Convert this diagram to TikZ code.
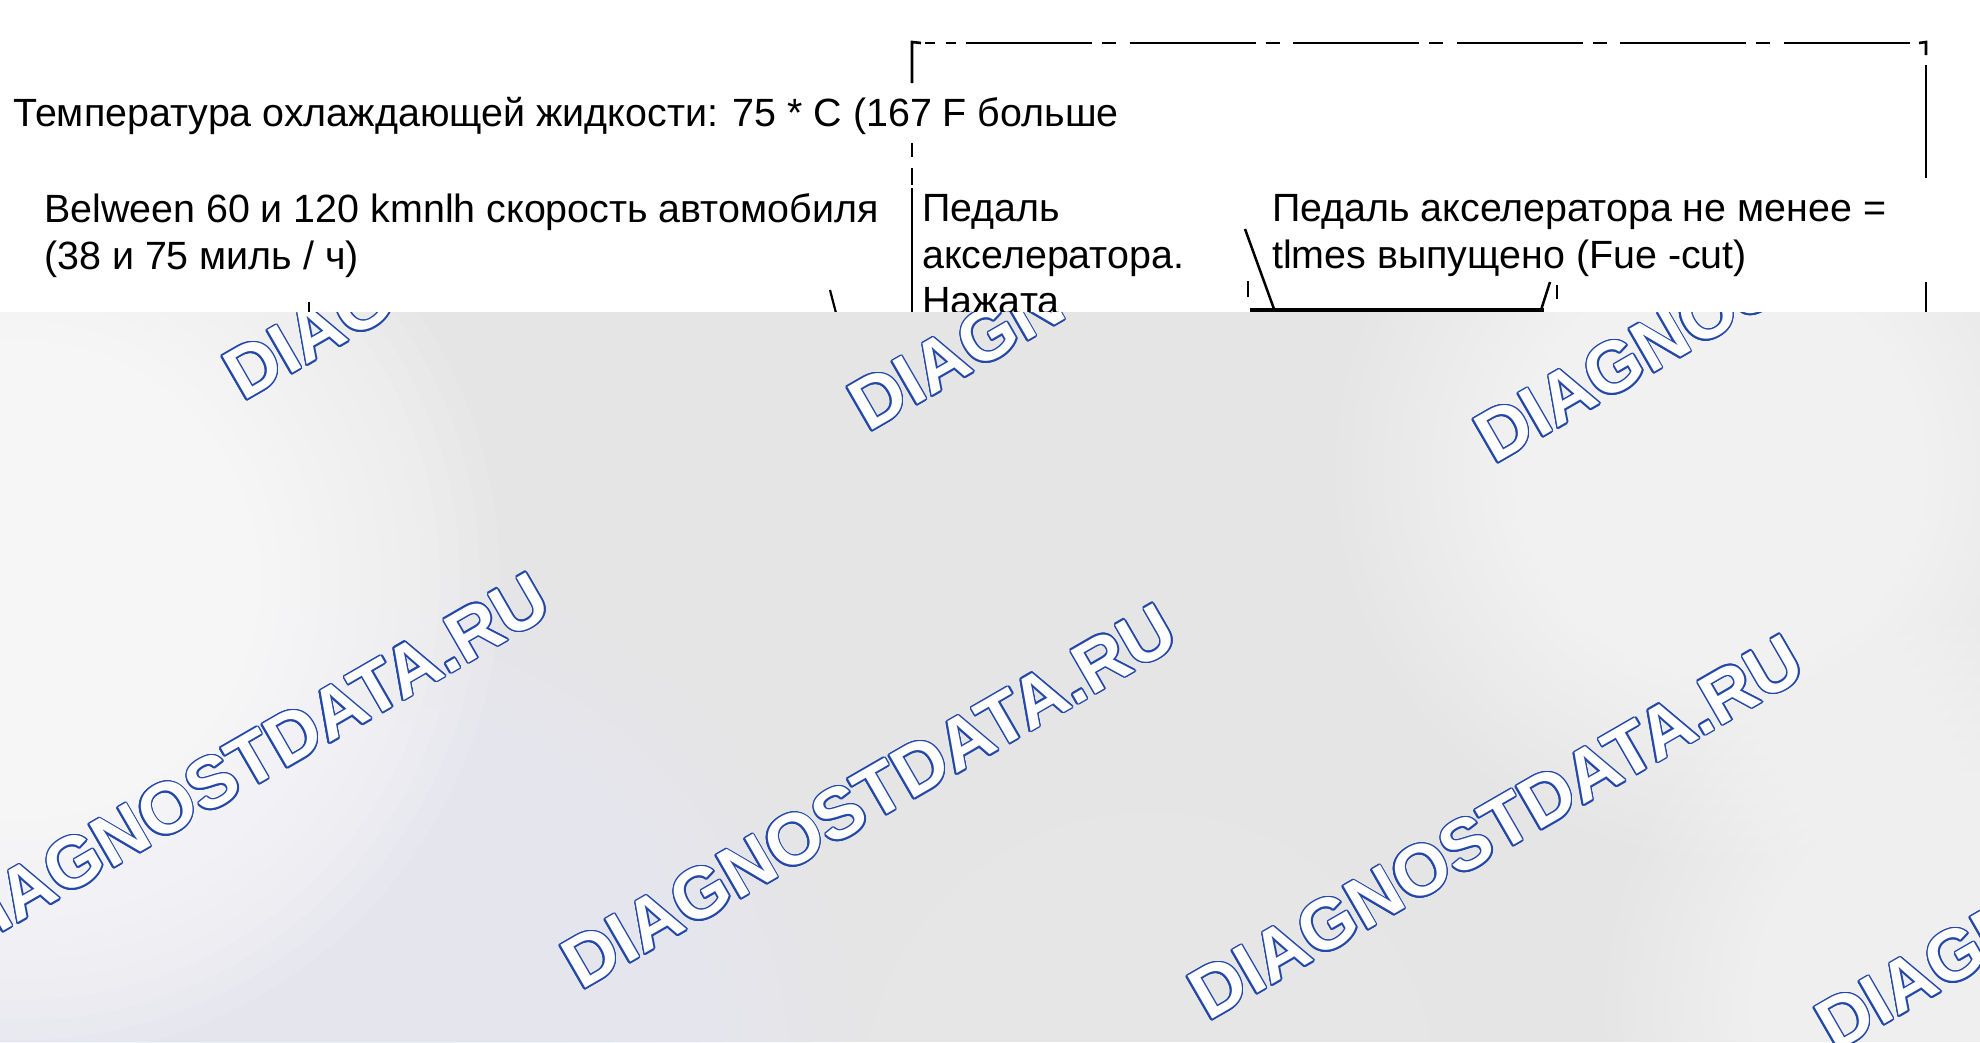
\documentclass[tikz,border=0pt]{standalone}
\usepackage{fontspec}
\setmainfont{Liberation Sans}
\newfontfamily\wmfont{Liberation Sans}
\definecolor{bgg}{HTML}{E5E5E6}
\definecolor{wmblue}{HTML}{2448A8}
\definecolor{bluetint}{HTML}{ECEFFA}
\newcommand\wmark[2]{%
  \foreach \a in {0,22.5,...,337.5}
    \node[wm, text=wmblue, xshift={1.5pt*cos(\a)}, yshift={1.5pt*sin(\a)}] at (#2) {DIAGNOSTDATA.RU};
  \node[wm, text=white] (#1) at (#2) {DIAGNOSTDATA.RU};}
\newcommand\glow[5]{% color, x, y, step radius, opacity
  \foreach \i in {1,...,24}
    \fill[#1, fill opacity=#5] (#2,#3) circle ({\i*#4});}
\begin{document}
\begin{tikzpicture}[x=1pt,y=-1pt,
  txt/.style={anchor=base west, inner sep=0pt, font=\fontsize{39.4}{47}\selectfont},
  frm/.style={line width=2.6pt, black},
  wm/.style={anchor=base west, inner sep=0pt, rotate=30, font=\wmfont\bfseries\fontsize{72}{72}\selectfont}]
\useasboundingbox (0,0) rectangle (1980,1042);
\fill[white] (0,0) rectangle (1980,1042);
% texts
\node[txt] (t1) at (13,126) {Температура охлаждающей жидкости: 75 * C (167 F больше};
\node[txt] (t2a) at (44,222) {Belween 60 и 120 kmnlh скорость автомобиля};
\node[txt] (t2b) at (44,269) {(38 и 75 миль / ч)};
\node[txt] (t3a) at (922,221) {Педаль};
\node[txt] (t3b) at (922,268) {акселератора.};
\node[txt] (t3c) at (922,314) {Нажата};
\node[txt] (t4a) at (1272,221) {Педаль акселератора не менее =};
\node[txt] (t4b) at (1272,268) {tlmes выпущено (Fue -cut)};
% frame coordinates
\coordinate (L0) at (912,42);
\coordinate (L1) at (912,83);
\coordinate (L2) at (912,143);
\coordinate (L3) at (912,157);
\coordinate (L4) at (912,168);
\coordinate (L5) at (912,185);
\coordinate (L6) at (912,188);
\coordinate (L7) at (912,312);
\coordinate (T0) at (921,43);
\coordinate (Ta) at (925,43);
\coordinate (Tb) at (935,43);
\coordinate (Tc) at (946,43);
\coordinate (Td) at (956,43);
\coordinate (Te) at (966,43);
\coordinate (Tf) at (1913,43);
\coordinate (Tg) at (1919,43);
\coordinate (R0) at (1926,42);
\coordinate (R1) at (1926,55);
\coordinate (R2) at (1926,65);
\coordinate (R3) at (1926,178);
\coordinate (R4) at (1926,282);
\coordinate (R5) at (1926,312);
\draw[frm] (L1) -- (L0) -- (T0);
\draw[frm] (Ta) -- (Tb);
\draw[frm] (Tc) -- (Td);
\draw[frm, dash pattern=on 126pt off 10pt on 14pt off 13.5pt] (Te) -- (Tf);
\draw[frm] (Tg) -- (R0) -- (R1);
\draw[frm] (L2) -- (L3);
\draw[frm] (L4) -- (L5);
\draw[frm] (L6) -- (L7);
\draw[frm] (R2) -- (R3);
\draw[frm] (R4) -- (R5);
% small marks near the bottom of the white band
\coordinate (a1) at (309,302); \coordinate (a2) at (309,313);
\coordinate (b1) at (830,290); \coordinate (b2) at (836,313);
\draw[line width=2.5pt] (a1) -- (a2);
\draw[line width=2.2pt] (b1) -- (b2);
\coordinate (s1) at (1245,229); \coordinate (s2) at (1274,309);
\coordinate (h1) at (1250,310); \coordinate (h2) at (1544,310);
\coordinate (r1) at (1550,282); \coordinate (r2) at (1541,310);
\coordinate (d1) at (1248,281); \coordinate (d2) at (1248,297);
\coordinate (e1) at (1557,285); \coordinate (e2) at (1557,299);
\draw[line width=2.5pt] (s1) -- (s2);
\draw[line width=4pt] (h1) -- (h2);
\draw[line width=2.5pt] (r1) -- (r2);
\draw[line width=2pt] (d1) -- (d2);
\draw[line width=2pt] (e1) -- (e2);
% grey overlay
\fill[bgg] (0,312) rectangle (1980,1042);
\begin{scope}
\clip (0,312) rectangle (1980,1042);
\glow{bluetint}{330}{1090}{22pt}{0.08}
\glow{white}{20}{580}{20pt}{0.1}
\glow{white}{1720}{470}{16pt}{0.07}
\glow{white}{1990}{1010}{16pt}{0.06}
\glow{white}{1150}{1100}{12pt}{0.04}
\wmark{w1}{243,402}
\wmark{w2}{868,433}
\wmark{w3}{1494,465}
\wmark{w4}{-46,960}
\wmark{w5}{581,991}
\wmark{w6}{1208,1022}
\wmark{w7}{1835,1053}
\end{scope}
\end{tikzpicture}
\end{document}
